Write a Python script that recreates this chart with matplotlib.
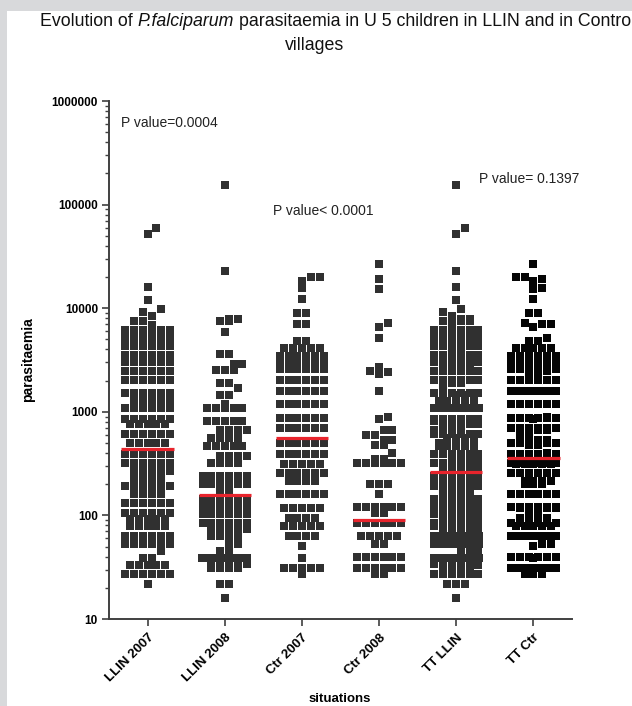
import numpy as np
import matplotlib
matplotlib.use("Agg")
from matplotlib import pyplot as plt
from matplotlib import font_manager
from matplotlib.patches import Rectangle
from matplotlib.ticker import FixedLocator, LogLocator, NullFormatter

situations = ["LLIN 2007", "LLIN 2008", "Ctr 2007", "Ctr 2008", "TT LLIN", "TT Ctr"]

# parasitaemia rows: level -> number of children at that level
llin2007_levels = [60000, 52000, 16100, 12100, 9900, 9100, 8500, 7600, 6900,
                   6100, 5200, 4300, 3500, 3000, 2500, 2040, 1530, 1280, 1090,
                   860, 770, 610, 500, 390, 320, 270, 230, 193, 161,
                   132, 106, 92, 79, 63, 53, 45, 39, 33, 27, 22]
llin2007_counts = [1, 1, 1, 1, 1, 1, 1, 2, 1,
                   6, 6, 6, 6, 6, 6, 6, 6, 5, 6,
                   6, 5, 6, 5, 6, 6, 5, 4, 6, 4,
                   6, 6, 5, 5, 6, 6, 1, 2, 5, 6, 1]

llin2008_levels = [155000, 23000, 7900, 7500, 5900, 3600, 2900, 2550, 1900, 1700,
                   1450, 1200, 1090, 820, 660, 560, 470, 375, 322, 240,
                   200, 172, 145, 124, 103, 85, 74, 63, 53, 45,
                   39, 34, 31, 22, 16]
llin2008_counts = [1, 1, 2, 2, 1, 2, 2, 3, 2, 1,
                   2, 1, 5, 5, 4, 4, 5, 4, 4, 6,
                   6, 2, 6, 6, 6, 6, 5, 4, 2, 2,
                   7, 5, 4, 2, 1]

ctr2007_levels = [19800, 18500, 15500, 12400, 8900, 7000, 4850, 4100, 3450, 3000,
                  2600, 2050, 1600, 1190, 875, 700, 500, 393, 315, 258,
                  215, 161, 118, 95, 79, 63, 51, 39, 31, 27]
ctr2007_counts = [2, 1, 1, 1, 2, 2, 2, 5, 6, 6,
                  6, 6, 6, 6, 6, 6, 6, 6, 5, 6,
                  4, 6, 5, 4, 5, 4, 1, 1, 5, 1]

ctr2008_levels = [26500, 19000, 15400, 7200, 6600, 5200, 2700, 2500, 2400, 2300,
                  1600, 900, 850, 660, 600, 540, 480, 400, 350, 320,
                  200, 160, 120, 106, 84, 63, 53, 40, 31, 27]
ctr2008_counts = [1, 1, 1, 1, 1, 1, 1, 1, 1, 1,
                  1, 1, 1, 2, 2, 2, 2, 1, 2, 6,
                  3, 1, 6, 2, 6, 5, 2, 6, 6, 2]

medians = [440, 158, 561, 91, 263, 360]
dot_colors = ["#303030", "#303030", "#303030", "#303030", "#303030", "#050505"]

p_texts = ["P value=0.0004", "P value< 0.0001", "P value= 0.1397"]
p_x = [-0.34, 1.62, 4.29]
p_y = [620000, 87000, 178000]


def pick_font(names):
    for n in names:
        try:
            font_manager.findfont(font_manager.FontProperties(family=n), fallback_to_default=False)
            return n
        except ValueError:
            pass
    return "DejaVu Sans"


narrow = pick_font(["Liberation Sans Narrow", "Liberation Sans", "Arimo"])
sans = pick_font(["Liberation Sans", "Arimo"])

llin2007 = np.repeat(llin2007_levels, llin2007_counts)
llin2008 = np.repeat(llin2008_levels, llin2008_counts)
ctr2007 = np.repeat(ctr2007_levels, ctr2007_counts)
ctr2008 = np.repeat(ctr2008_levels, ctr2008_counts)
# the TT columns pool the two years
groups = [llin2007, llin2008, ctr2007, ctr2008,
          np.concatenate([llin2007, llin2008]), np.concatenate([ctr2007, ctr2008])]


def spread(values):
    # rows of equal values are centred, close rows get nudged sideways
    w = 0.115
    half = 0.29
    h = 0.072
    levels, counts = np.unique(values, return_counts=True)
    px, py = [], []
    for lev, n in zip(levels, counts):
        ly = np.log10(lev)
        step = w if n == 1 else min(w, 2 * half / (n - 1))
        base = (np.arange(n) - (n - 1) / 2) * step
        best = None
        for shift in [0, w / 2, -w / 2, w, -w, 1.5 * w, -1.5 * w]:
            pos = base + shift
            if np.abs(pos).max() > half + 1e-9:
                continue
            hits = 0
            for x0, y0 in zip(px, py):
                if abs(y0 - ly) < h:
                    hits += np.sum(np.abs(pos - x0) < w * 0.9)
            if best is None or hits < best[0]:
                best = (hits, pos)
            if hits == 0:
                break
        for p in best[1]:
            px.append(p)
            py.append(ly)
    return np.array(px), 10 ** np.array(py)


fig = plt.figure(figsize=(6.32, 7.06), dpi=100, facecolor="#d8d9db")
fig.patches.append(Rectangle((7 / 632, 0), 1, 695 / 706, transform=fig.transFigure,
                             facecolor="white", edgecolor="none", zorder=-1))

ax = fig.add_axes([109 / 632, 1 - 619 / 706, (572 - 109) / 632, (619 - 101) / 706])
ax.set_facecolor("none")

for i, vals in enumerate(groups):
    dx, yy = spread(vals)
    ax.scatter(i + dx, yy, marker="s", s=33, color=dot_colors[i], linewidths=0, zorder=2)
    ax.hlines(medians[i], i - 0.34, i + 0.34, color="#e8242c", lw=2.3, zorder=3)

ax.set_yscale("log")
ax.set_ylim(10, 1000000)
ax.set_xlim(-0.5, 5.5)
ax.yaxis.set_major_locator(FixedLocator([10, 100, 1000, 10000, 100000, 1000000]))
ax.set_yticklabels(["10", "100", "1000", "10000", "100000", "1000000"],
                   fontweight="bold", fontsize=8.5, family=sans)
ax.yaxis.set_minor_locator(LogLocator(base=10, subs=range(2, 10)))
ax.yaxis.set_minor_formatter(NullFormatter())
ax.set_xticks(range(6))
ax.set_xticklabels(situations, rotation=45, ha="right", va="top", rotation_mode="anchor",
                   fontweight="bold", fontsize=9.5, family=sans)

for s in ["top", "right"]:
    ax.spines[s].set_visible(False)
for s in ["left", "bottom"]:
    ax.spines[s].set_color("#404040")
    ax.spines[s].set_linewidth(1.4)
ax.tick_params(axis="y", which="major", length=5, width=1.2, color="#404040", pad=3)
ax.tick_params(axis="y", which="minor", length=3, width=1.0, color="#404040")
ax.tick_params(axis="x", length=5, width=1.2, color="#404040", pad=4)

for txt, x, y in zip(p_texts, p_x, p_y):
    ax.text(x, y, txt, ha="left", va="center", fontsize=10, family=narrow,
            color="#222222", clip_on=False)

fig.text(340 / 632, 1 - 699 / 706, "situations", ha="center", va="center",
         fontweight="bold", fontsize=9.5, family=sans)
fig.text(28 / 632, 1 - 360 / 706, "parasitaemia", rotation=90, ha="center", va="center",
         fontweight="bold", fontsize=10, family=sans)

# title with italic species name, pieces set one after the other
fig.canvas.draw()
rend = fig.canvas.get_renderer()
title_size = 12.8
gap = 0.278 * title_size * 100 / 72
xpix = 40
for piece, style in [("Evolution of", "normal"), ("P.falciparum", "italic"),
                     ("parasitaemia in U 5 children in LLIN and in Contro", "normal")]:
    t = fig.text(xpix / 632, 1 - 22 / 706, piece, fontstyle=style, fontsize=title_size,
                 family=narrow, ha="left", va="center", color="#111111")
    xpix += t.get_window_extent(renderer=rend).width + gap
fig.text(315 / 632, 1 - 45 / 706, "villages", ha="center", va="center",
         fontsize=title_size, family=narrow, color="#111111")

fig.savefig("out.png", dpi=100, facecolor=fig.get_facecolor())
